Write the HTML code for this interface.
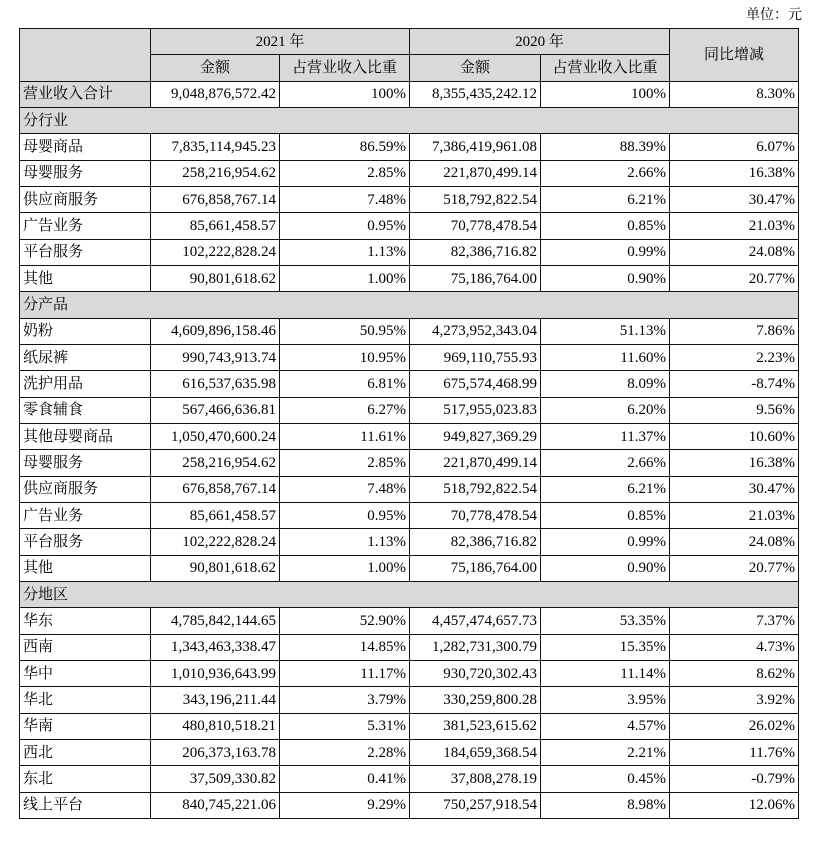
<!DOCTYPE html>
<html><head><meta charset="utf-8"><style>
body{margin:0;width:832px;height:846px;background:#fff;font-family:"Liberation Serif","Noto Serif CJK SC",serif;font-size:15px;color:#000;position:relative}
.unit{position:absolute;left:746px;top:4px;font-size:14px}
table{position:absolute;left:19px;top:28px;border-collapse:collapse;table-layout:fixed}
tr{height:26.33px}
td{border:1.5px solid #111;padding:0 3px;line-height:16px;white-space:nowrap;overflow:hidden}
.g{background:#d9d9d9}
.r{text-align:right}.c{text-align:center}
</style></head><body>
<div class="unit">单位：元</div>
<table>
<colgroup><col style="width:131px"><col style="width:129px"><col style="width:130px"><col style="width:131px"><col style="width:129px"><col style="width:129px"></colgroup>
<tr><td class="g" rowspan="2"></td><td class="g c" colspan="2">2021 年</td><td class="g c" colspan="2">2020 年</td><td class="g c" rowspan="2">同比增减</td></tr>
<tr><td class="g c">金额</td><td class="g c">占营业收入比重</td><td class="g c">金额</td><td class="g c">占营业收入比重</td></tr>
<tr><td class="g">营业收入合计</td><td class="r">9,048,876,572.42</td><td class="r">100%</td><td class="r">8,355,435,242.12</td><td class="r">100%</td><td class="r">8.30%</td></tr>
<tr><td class="g" colspan="6">分行业</td></tr>
<tr><td>母婴商品</td><td class="r">7,835,114,945.23</td><td class="r">86.59%</td><td class="r">7,386,419,961.08</td><td class="r">88.39%</td><td class="r">6.07%</td></tr>
<tr><td>母婴服务</td><td class="r">258,216,954.62</td><td class="r">2.85%</td><td class="r">221,870,499.14</td><td class="r">2.66%</td><td class="r">16.38%</td></tr>
<tr><td>供应商服务</td><td class="r">676,858,767.14</td><td class="r">7.48%</td><td class="r">518,792,822.54</td><td class="r">6.21%</td><td class="r">30.47%</td></tr>
<tr><td>广告业务</td><td class="r">85,661,458.57</td><td class="r">0.95%</td><td class="r">70,778,478.54</td><td class="r">0.85%</td><td class="r">21.03%</td></tr>
<tr><td>平台服务</td><td class="r">102,222,828.24</td><td class="r">1.13%</td><td class="r">82,386,716.82</td><td class="r">0.99%</td><td class="r">24.08%</td></tr>
<tr><td>其他</td><td class="r">90,801,618.62</td><td class="r">1.00%</td><td class="r">75,186,764.00</td><td class="r">0.90%</td><td class="r">20.77%</td></tr>
<tr><td class="g" colspan="6">分产品</td></tr>
<tr><td>奶粉</td><td class="r">4,609,896,158.46</td><td class="r">50.95%</td><td class="r">4,273,952,343.04</td><td class="r">51.13%</td><td class="r">7.86%</td></tr>
<tr><td>纸尿裤</td><td class="r">990,743,913.74</td><td class="r">10.95%</td><td class="r">969,110,755.93</td><td class="r">11.60%</td><td class="r">2.23%</td></tr>
<tr><td>洗护用品</td><td class="r">616,537,635.98</td><td class="r">6.81%</td><td class="r">675,574,468.99</td><td class="r">8.09%</td><td class="r">-8.74%</td></tr>
<tr><td>零食辅食</td><td class="r">567,466,636.81</td><td class="r">6.27%</td><td class="r">517,955,023.83</td><td class="r">6.20%</td><td class="r">9.56%</td></tr>
<tr><td>其他母婴商品</td><td class="r">1,050,470,600.24</td><td class="r">11.61%</td><td class="r">949,827,369.29</td><td class="r">11.37%</td><td class="r">10.60%</td></tr>
<tr><td>母婴服务</td><td class="r">258,216,954.62</td><td class="r">2.85%</td><td class="r">221,870,499.14</td><td class="r">2.66%</td><td class="r">16.38%</td></tr>
<tr><td>供应商服务</td><td class="r">676,858,767.14</td><td class="r">7.48%</td><td class="r">518,792,822.54</td><td class="r">6.21%</td><td class="r">30.47%</td></tr>
<tr><td>广告业务</td><td class="r">85,661,458.57</td><td class="r">0.95%</td><td class="r">70,778,478.54</td><td class="r">0.85%</td><td class="r">21.03%</td></tr>
<tr><td>平台服务</td><td class="r">102,222,828.24</td><td class="r">1.13%</td><td class="r">82,386,716.82</td><td class="r">0.99%</td><td class="r">24.08%</td></tr>
<tr><td>其他</td><td class="r">90,801,618.62</td><td class="r">1.00%</td><td class="r">75,186,764.00</td><td class="r">0.90%</td><td class="r">20.77%</td></tr>
<tr><td class="g" colspan="6">分地区</td></tr>
<tr><td>华东</td><td class="r">4,785,842,144.65</td><td class="r">52.90%</td><td class="r">4,457,474,657.73</td><td class="r">53.35%</td><td class="r">7.37%</td></tr>
<tr><td>西南</td><td class="r">1,343,463,338.47</td><td class="r">14.85%</td><td class="r">1,282,731,300.79</td><td class="r">15.35%</td><td class="r">4.73%</td></tr>
<tr><td>华中</td><td class="r">1,010,936,643.99</td><td class="r">11.17%</td><td class="r">930,720,302.43</td><td class="r">11.14%</td><td class="r">8.62%</td></tr>
<tr><td>华北</td><td class="r">343,196,211.44</td><td class="r">3.79%</td><td class="r">330,259,800.28</td><td class="r">3.95%</td><td class="r">3.92%</td></tr>
<tr><td>华南</td><td class="r">480,810,518.21</td><td class="r">5.31%</td><td class="r">381,523,615.62</td><td class="r">4.57%</td><td class="r">26.02%</td></tr>
<tr><td>西北</td><td class="r">206,373,163.78</td><td class="r">2.28%</td><td class="r">184,659,368.54</td><td class="r">2.21%</td><td class="r">11.76%</td></tr>
<tr><td>东北</td><td class="r">37,509,330.82</td><td class="r">0.41%</td><td class="r">37,808,278.19</td><td class="r">0.45%</td><td class="r">-0.79%</td></tr>
<tr><td>线上平台</td><td class="r">840,745,221.06</td><td class="r">9.29%</td><td class="r">750,257,918.54</td><td class="r">8.98%</td><td class="r">12.06%</td></tr>
</table>
</body></html>
